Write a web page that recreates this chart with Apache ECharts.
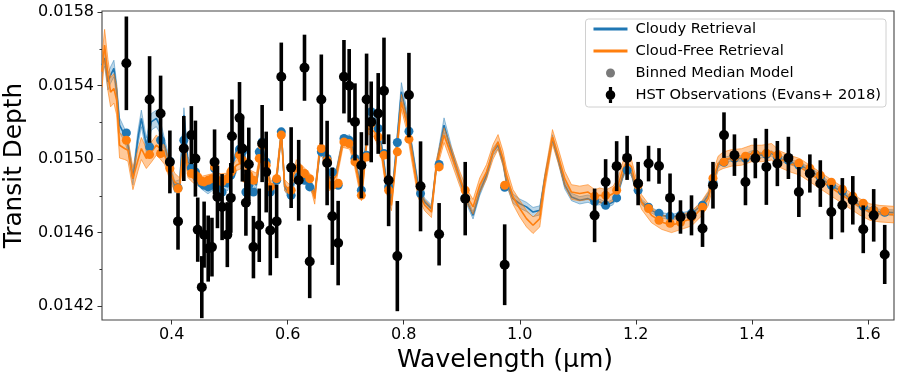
<!DOCTYPE html>
<html><head><meta charset="utf-8">
<script src="https://cdn.jsdelivr.net/npm/echarts@6/dist/echarts.min.js"></script>
<style>html,body{margin:0;padding:0;background:#fff}#c{width:899px;height:377px}</style>
</head><body><div id="c"></div>
<script>
// ---- model spectra (median and 1-sigma half width) ----
const modelWl = [0.2800,0.2845,0.2902,0.2948,0.3005,0.3052,0.3103,0.3190,0.3247,0.3333,
0.3419,0.3478,0.3564,0.3650,0.3736,0.3793,0.3879,0.3966,0.4052,0.4138,
0.4212,0.4281,0.4367,0.4512,0.4626,0.4741,0.4857,0.4971,0.5034,0.5116,
0.5229,0.5345,0.5460,0.5547,0.5633,0.5719,0.5805,0.5891,0.5948,0.6034,
0.6150,0.6264,0.6379,0.6466,0.6552,0.6638,0.6724,0.6840,0.6953,0.7069,
0.7155,0.7271,0.7310,0.7384,0.7500,0.7616,0.7702,0.7788,0.7874,0.7960,
0.8047,0.8133,0.8247,0.8362,0.8478,0.8564,0.8695,0.8822,0.8966,0.9081,
0.9195,0.9310,0.9426,0.9540,0.9626,0.9712,0.9771,0.9884,1.0000,1.0116,
1.0229,1.0345,1.0431,1.0564,1.0660,1.0776,1.0891,1.1034,1.1178,1.1293,
1.1379,1.1495,1.1609,1.1695,1.1781,1.1840,1.1926,1.2012,1.2098,1.2271,
1.2443,1.2616,1.2788,1.2960,1.3133,1.3247,1.3333,1.3419,1.3505,1.3650,
1.3822,1.3995,1.4167,1.4340,1.4483,1.4655,1.4828,1.5000,1.5172,1.5345,
1.5517,1.5690,1.5862,1.6034,1.6207,1.6450];
const cloudyMed = [0.015512,0.015551,0.015421,0.015458,0.015494,0.015376,0.015185,0.015131,0.015076,0.014894,
0.015113,0.015222,0.015076,0.015203,0.015222,0.015185,0.015076,0.014967,0.014849,0.014858,
0.015240,0.014985,0.014930,0.014858,0.014831,0.014858,0.014858,0.014849,0.014951,0.015040,
0.015058,0.014894,0.014858,0.015076,0.014985,0.014821,0.014876,0.015149,0.014849,0.014803,
0.014912,0.014894,0.014858,0.014813,0.015031,0.015040,0.014894,0.014930,0.015103,0.015113,
0.015012,0.014831,0.014940,0.015223,0.015222,0.015076,0.014876,0.014767,0.015058,0.015367,
0.015240,0.015076,0.014858,0.014767,0.014731,0.014967,0.015185,0.015040,0.014894,0.014776,
0.014694,0.014821,0.014912,0.015040,0.015076,0.014985,0.014876,0.014785,0.014758,0.014740,
0.014712,0.014721,0.014894,0.015113,0.015004,0.014858,0.014794,0.014776,0.014785,0.014767,
0.014767,0.014749,0.014767,0.014821,0.014912,0.014949,0.014922,0.014821,0.014767,0.014721,
0.014694,0.014685,0.014694,0.014703,0.014749,0.014803,0.014876,0.014967,0.014994,0.015004,
0.015004,0.015031,0.015022,0.015031,0.015004,0.014985,0.014967,0.014940,0.014903,0.014858,
0.014831,0.014785,0.014749,0.014721,0.014712,0.014709];
const cloudySig = [0.000045,0.000045,0.000045,0.000045,0.000045,0.00004,0.00004,0.000035,0.000035,0.000035,
0.00004,0.000045,0.00004,0.000045,0.000045,0.00004,0.000035,0.00003,0.00003,0.00003,
0.00004,0.00003,0.000025,0.00002,0.00002,0.00002,0.00002,0.00002,0.00002,0.00002,
0.00002,0.00002,0.00002,0.00002,0.00002,0.00002,0.00002,0.00002,0.00002,0.00002,
0.00002,0.00002,0.00002,0.00002,0.00002,0.00002,0.00002,0.00002,0.00002,0.00002,
0.00002,0.00002,0.00002,0.00003,0.00003,0.00003,0.00002,0.00002,0.00003,0.00005,
0.00004,0.00003,0.00002,0.00002,0.00002,0.00002,0.00004,0.00003,0.00002,0.00002,
0.00002,0.00002,0.00002,0.00002,0.00002,0.00002,0.00002,0.000025,0.000025,0.000025,
0.000025,0.000025,0.00002,0.00002,0.00002,0.00002,0.00002,0.00002,0.00002,0.00002,
0.000015,0.000015,0.000015,0.000015,0.000015,0.000015,0.000015,0.000015,0.000015,0.000015,
0.000015,0.000015,0.000015,0.000015,0.000015,0.000015,0.000015,0.000015,0.000015,0.000015,
0.000015,0.000015,0.000015,0.000015,0.000015,0.000015,0.000015,0.000015,0.000015,0.000015,
0.000015,0.000015,0.000015,0.000015,0.000015,0.000015];
const freeMed = [0.015476,0.015622,0.015458,0.015365,0.015385,0.015322,0.015076,0.015058,0.015049,0.014894,
0.014994,0.015058,0.015004,0.015038,0.015076,0.015060,0.015022,0.014940,0.014874,0.014858,
0.015076,0.014940,0.014907,0.014876,0.014885,0.014894,0.014891,0.014894,0.014929,0.014967,
0.014983,0.014912,0.014894,0.015040,0.014930,0.014849,0.014894,0.015140,0.014858,0.014831,
0.014967,0.014930,0.014894,0.014785,0.015058,0.015022,0.014858,0.014912,0.015094,0.015085,
0.014985,0.014803,0.014912,0.015169,0.015149,0.015040,0.014849,0.014749,0.015022,0.015312,
0.015203,0.015040,0.014821,0.014749,0.014712,0.014967,0.015131,0.015022,0.014894,0.014803,
0.014740,0.014858,0.014930,0.015040,0.015094,0.015004,0.014912,0.014794,0.014731,0.014676,
0.014640,0.014676,0.014876,0.015121,0.015022,0.014894,0.014821,0.014813,0.014821,0.014794,
0.014803,0.014794,0.014813,0.014858,0.014949,0.014985,0.014958,0.014849,0.014767,0.014694,
0.014658,0.014640,0.014658,0.014676,0.014731,0.014785,0.014894,0.014976,0.014994,0.015007,
0.015012,0.015031,0.015031,0.015040,0.015000,0.014976,0.014958,0.014922,0.014885,0.014849,
0.014813,0.014776,0.014740,0.014712,0.014703,0.014698];
const freeSig = [0.000085,0.000085,0.000085,0.00008,0.00008,0.00008,0.00007,0.00006,0.00006,0.00006,
0.00006,0.00006,0.000055,0.000055,0.000055,0.000055,0.00005,0.00005,0.00005,0.00004,
0.00004,0.00004,0.000035,0.00003,0.00003,0.00003,0.00003,0.00003,0.00003,0.00003,
0.00003,0.00003,0.00003,0.00003,0.00003,0.00003,0.00003,0.00003,0.00003,0.00003,
0.00003,0.00003,0.00003,0.00003,0.00003,0.00003,0.00003,0.00003,0.00003,0.00003,
0.00003,0.00003,0.00003,0.00003,0.00003,0.00003,0.00003,0.00003,0.00003,0.00004,
0.00004,0.00004,0.00003,0.00003,0.00003,0.00003,0.00004,0.00004,0.00004,0.00004,
0.00004,0.00004,0.00004,0.00004,0.00004,0.00004,0.00004,0.00004,0.000045,0.000045,
0.000045,0.000045,0.00004,0.00004,0.00004,0.00004,0.00004,0.00004,0.00004,0.00004,
0.00004,0.00004,0.00004,0.00004,0.00004,0.00004,0.00004,0.00004,0.00004,0.00004,
0.00004,0.00004,0.00004,0.00004,0.00004,0.00004,0.00004,0.00004,0.000045,0.000045,
0.000045,0.000045,0.000045,0.000045,0.000045,0.000045,0.000045,0.000045,0.000045,0.000045,
0.000045,0.000045,0.000045,0.000045,0.000045,0.000045];

// ---- observations and binned models ----
const obsWl = [0.322,0.362,0.381,0.397,0.411,0.421,0.434,0.441,0.445,0.452,
0.456,0.463,0.4695,0.474,0.479,0.487,0.496,0.502,0.504,0.517,
0.522,0.528,0.533,0.541,0.551,0.556,0.563,0.570,0.581,0.589,
0.606,0.619,0.629,0.638,0.658,0.668,0.677,0.687,0.697,0.706,
0.716,0.727,0.736,0.744,0.756,0.766,0.774,0.789,0.809,0.829,
0.861,0.906,0.974,
1.129,1.148,1.167,1.185,1.204,1.222,1.240,1.259,1.277,1.296,
1.315,1.333,1.352,1.370,1.389,1.406,1.425,1.444,1.463,1.481,
1.500,1.518,1.537,1.556,1.574,1.592,1.610,1.629];
const obsDepth = [0.015522,0.015325,0.015249,0.014985,0.014661,0.015058,0.015131,0.015003,0.014616,0.014303,
0.014589,0.014513,0.014521,0.014985,0.014794,0.014739,0.014589,0.014789,0.015125,0.015225,
0.015058,0.014763,0.014972,0.014521,0.014640,0.015085,0.014930,0.014612,0.014661,0.015449,
0.014954,0.014885,0.015498,0.014443,0.015325,0.014979,0.014689,0.014543,0.015449,0.015400,
0.015203,0.014967,0.015325,0.015203,0.015249,0.015372,0.014885,0.014472,0.015349,0.014852,
0.014591,0.014785,0.014425,
0.014694,0.014876,0.014962,0.015007,0.014867,0.014976,0.014963,0.014789,0.014685,0.014694,
0.014622,0.014858,0.015131,0.015022,0.014876,0.015005,0.014958,0.014976,0.015007,0.014821,
0.014922,0.014867,0.014712,0.014749,0.014776,0.014618,0.014694,0.014481];
const obsErr = [0.000255,0.000236,0.000206,0.000171,0.000154,0.000177,0.000158,0.000207,0.000175,0.000169,
0.000180,0.000180,0.000160,0.000177,0.000170,0.000180,0.000177,0.000190,0.000200,0.000195,
0.000180,0.000180,0.000200,0.000170,0.000200,0.000210,0.000220,0.000245,0.000200,0.000186,
0.000220,0.000220,0.000180,0.000200,0.000245,0.000230,0.000265,0.000230,0.000200,0.000200,
0.000210,0.000180,0.000250,0.000220,0.000220,0.000290,0.000250,0.000300,0.000230,0.000245,
0.000170,0.000200,0.000220,
0.000146,0.000124,0.000136,0.000120,0.000118,0.000097,0.000097,0.000133,0.000091,0.000109,
0.000100,0.000127,0.000124,0.000113,0.000127,0.000109,0.000207,0.000123,0.000115,0.000136,
0.000104,0.000127,0.000148,0.000148,0.000132,0.000130,0.000143,0.000161];
const binCloudy = [0.015143,0.015067,0.015103,0.014989,0.014843,0.015103,0.014952,0.014930,0.014894,0.014867,
0.014858,0.014849,0.014858,0.014949,0.014849,0.014821,0.014876,0.014912,0.014930,0.015054,
0.015040,0.014821,0.014858,0.014821,0.015040,0.015094,0.014985,0.014821,0.014885,0.015149,
0.014803,0.014903,0.014885,0.014849,0.015040,0.015004,0.014930,0.014858,0.015113,0.015103,
0.015004,0.014831,0.015022,0.015258,0.015167,0.015031,0.014849,0.015091,0.015152,0.014813,
0.014971,0.014789,0.014847,
0.014771,0.014749,0.014789,0.014940,0.014831,0.014738,0.014705,0.014689,0.014694,0.014705,
0.014749,0.014874,0.014983,0.015005,0.015005,0.015027,0.015027,0.015011,0.014994,0.014967,
0.014940,0.014901,0.014858,0.014825,0.014787,0.014743,0.014721,0.014711];
const binFree = [0.015103,0.015025,0.015031,0.014949,0.014840,0.015058,0.014922,0.014912,0.014903,0.014880,
0.014876,0.014885,0.014894,0.014958,0.014885,0.014876,0.014894,0.014930,0.014940,0.015022,
0.014994,0.014894,0.014912,0.014885,0.015004,0.015076,0.014967,0.014849,0.014894,0.015131,
0.014831,0.014949,0.014922,0.014894,0.015058,0.014994,0.014858,0.014869,0.015094,0.015085,
0.014985,0.014803,0.015012,0.015194,0.015121,0.015022,0.014831,0.015040,0.015109,0.014849,
0.014958,0.014831,0.014858,
0.014798,0.014803,0.014831,0.015004,0.014858,0.014731,0.014667,0.014651,0.014656,0.014683,
0.014738,0.014896,0.014985,0.015011,0.015016,0.015027,0.015032,0.015022,0.015005,0.014978,
0.014951,0.014912,0.014874,0.014836,0.014798,0.014760,0.014721,0.014716];

// ---- axes ----
const xTicks = [0.4, 0.6, 0.8, 1.0, 1.2, 1.4, 1.6];
const yTicks = [0.0142, 0.0146, 0.0150, 0.0154, 0.0158];
const yMinorTicks = [0.0144, 0.0148, 0.0152, 0.0156];
const X_MIN = 0.28, X_MAX = 1.645, Y_MIN = 0.014124, Y_MAX = 0.015807;

const FONT = 'DejaVu Sans';
const BLUE = '#1f77b4', ORANGE = '#ff7f0e';

function bandSeries(med, sig, fill, stroke, z) {
  return {
    type: 'custom', coordinateSystem: 'cartesian2d', clip: true, silent: true, z: z,
    data: [[modelWl[0], med[0]]],
    renderItem: function (params, api) {
      const pts = [];
      for (let i = 0; i < modelWl.length; i++) pts.push(api.coord([modelWl[i], med[i] + sig[i]]));
      for (let i = modelWl.length - 1; i >= 0; i--) pts.push(api.coord([modelWl[i], med[i] - sig[i]]));
      return { type: 'polygon', shape: { points: pts }, style: { fill: fill, stroke: stroke, lineWidth: 1 } };
    }
  };
}

const chart = echarts.init(document.getElementById('c'), null, { renderer: 'canvas' });
const L_LINE = 'path://M0,0L0,0M34,16L34,16M0,6.6H34V9.4H0Z';
const L_DOT = 'path://M0,0L0,0M34,16L34,16M21.5,8A4.5,4.5 0 1 1 12.5,8A4.5,4.5 0 1 1 21.5,8Z';
const L_ERR = 'path://M0,0L0,0M34,16L34,16M15.4,0H18.6V16H15.4Z M21.8,8A4.8,4.8 0 1 1 12.2,8A4.8,4.8 0 1 1 21.8,8Z';

chart.setOption({
  animation: false,
  grid: { left: 102, right: 5, top: 11, bottom: 57, containLabel: false, outerBoundsMode: 'none', show: true, borderColor: '#444', borderWidth: 1.1, backgroundColor: 'transparent' },
  legend: {
    orient: 'vertical', right: 13, top: 19, itemWidth: 34, itemHeight: 16, itemGap: 6,
    padding: [2, 5, 4, 8], backgroundColor: 'rgba(255,255,255,0.8)', borderColor: '#d0d0d0', borderWidth: 1, borderRadius: 3,
    selectedMode: false,
    textStyle: { fontFamily: FONT, fontSize: 14.7, color: '#000', padding: [0, 0, 0, 3] },
    data: [
      { name: 'Cloudy Retrieval', icon: L_LINE, itemStyle: { color: BLUE, borderWidth: 0 } },
      { name: 'Cloud-Free Retrieval', icon: L_LINE, itemStyle: { color: ORANGE, borderWidth: 0 } },
      { name: 'Binned Median Model', icon: L_DOT, itemStyle: { color: '#7a7a7a', borderWidth: 0 } },
      { name: 'HST Observations (Evans+ 2018)', icon: L_ERR, itemStyle: { color: '#000', borderWidth: 0 } }
    ]
  },
  xAxis: {
    type: 'value', min: X_MIN, max: X_MAX,
    name: 'Wavelength (µm)', nameLocation: 'middle', nameGap: 25,
    nameTextStyle: { fontFamily: FONT, fontSize: 25, color: '#000', padding: [0, 0, 0, 14] },
    axisLine: { show: false },
    splitLine: { show: false },
    axisTick: { show: true, length: 4.5, customValues: xTicks, lineStyle: { color: '#333', width: 1 } },
    axisLabel: { customValues: xTicks, margin: 7, fontFamily: FONT, fontSize: 16, color: '#000', formatter: v => v.toFixed(1) }
  },
  yAxis: [{
    type: 'value', min: Y_MIN, max: Y_MAX,
    name: 'Transit Depth', nameLocation: 'middle', nameGap: 74,
    nameTextStyle: { fontFamily: FONT, fontSize: 24.8, color: '#000' },
    axisLine: { show: false },
    splitLine: { show: false },
    axisTick: { show: true, length: 4.5, customValues: yTicks, lineStyle: { color: '#333', width: 1 } },
    axisLabel: { customValues: yTicks, margin: 8, fontFamily: FONT, fontSize: 16, color: '#000', formatter: v => v.toFixed(4) }
  }, {
    type: 'value', min: Y_MIN, max: Y_MAX, position: 'left',
    axisLine: { show: false }, splitLine: { show: false },
    axisTick: { show: true, length: 2.5, customValues: yMinorTicks, lineStyle: { color: '#333', width: 1 } },
    axisLabel: { show: false }
  }],
  series: [
    bandSeries(cloudyMed, cloudySig, 'rgba(31,119,180,0.3)', 'rgba(31,119,180,0.45)', 2),
    {
      name: 'Cloudy Retrieval', type: 'line', z: 3, showSymbol: false, clip: true, silent: true,
      data: modelWl.map((w, i) => [w, cloudyMed[i]]),
      lineStyle: { color: BLUE, width: 1.6 }, itemStyle: { color: BLUE }
    },
    bandSeries(freeMed, freeSig, 'rgba(255,127,14,0.42)', 'rgba(255,127,14,0.6)', 4),
    {
      name: 'Cloud-Free Retrieval', type: 'line', z: 5, showSymbol: false, clip: true, silent: true,
      data: modelWl.map((w, i) => [w, freeMed[i]]),
      lineStyle: { color: ORANGE, width: 1.6 }, itemStyle: { color: ORANGE }
    },
    {
      name: 'Binned Median Model', type: 'scatter', z: 6, symbolSize: 9, silent: true,
      data: obsWl.map((w, i) => [w, binCloudy[i]]), itemStyle: { color: BLUE, opacity: 1 }
    },
    {
      name: 'Binned Median Model', type: 'scatter', z: 7, symbolSize: 9, silent: true,
      data: obsWl.map((w, i) => [w, binFree[i]]), itemStyle: { color: ORANGE, opacity: 1 }
    },
    {
      name: 'HST Observations (Evans+ 2018)', type: 'custom', z: 8, clip: true, silent: true,
      data: obsWl.map((w, i) => [w, obsDepth[i] - obsErr[i], obsDepth[i] + obsErr[i]]),
      renderItem: function (params, api) {
        const a = api.coord([api.value(0), api.value(1)]);
        const b = api.coord([api.value(0), api.value(2)]);
        return { type: 'line', shape: { x1: a[0], y1: a[1], x2: b[0], y2: b[1] }, style: { stroke: '#000', lineWidth: 3.6 } };
      }
    },
    {
      name: 'HST Observations (Evans+ 2018)', type: 'scatter', z: 9, symbolSize: 10, silent: true,
      data: obsWl.map((w, i) => [w, obsDepth[i]]), itemStyle: { color: '#000', opacity: 1 }
    }
  ]
});
</script>
</body></html>
